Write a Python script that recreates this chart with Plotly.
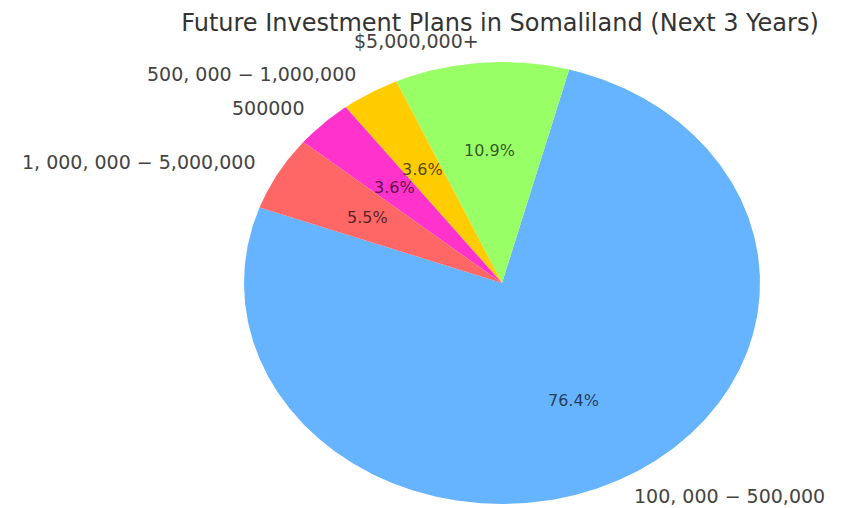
import numpy as np
import plotly.graph_objects as go

# ---- data ----
labels = ["100, 000 − 500,000", "$5,000,000+", "500, 000 − 1,000,000", "500000", "1, 000, 000 − 5,000,000"]
counts = [42, 6, 2, 2, 3]
colors = ["#66b3ff", "#99ff66", "#ffcc00", "#ff33cc", "#ff6666"]
title = "Future Investment Plans in Somaliland (Next 3 Years)"

# ---- layout geometry (pixels) ----
OFF = 8                  # page body margin of the html page
W, H = 868 - OFF, 508 - OFF
cx, cy = 502 - OFF, 283 - OFF   # pie centre in figure px (from top-left)
rx, ry = 258, 221               # pie radii in px (stretched pie)
start_angle = 160.0             # degrees, counter-clockwise

xr = [-cx / rx, (W - cx) / rx]
yr = [-(H - cy) / ry, cy / ry]

total = float(sum(counts))
fig = go.Figure()
annotations = []
angle = start_angle
for lab, val, col in zip(labels, counts, colors):
    frac = val / total
    sweep = 360.0 * frac
    th = np.radians(np.linspace(angle, angle + sweep, max(int(sweep * 2), 8)))
    xs = np.concatenate([[0], np.cos(th), [0]])
    ys = np.concatenate([[0], np.sin(th), [0]])
    fig.add_trace(go.Scatter(x=xs, y=ys, fill="toself", fillcolor=col, mode="lines",
                             line=dict(width=0, color=col), hoverinfo="text",
                             text=f"{lab}: {val}", showlegend=False))
    mid = np.radians(angle + sweep / 2)
    mx, my = np.cos(mid), np.sin(mid)
    # percentage text
    annotations.append(dict(x=0.6 * mx, y=0.6 * my, xref="x", yref="y",
                            text=f"{frac * 100:.1f}%", showarrow=False,
                            font=dict(family="DejaVu Sans", size=16, color="rgba(0,0,0,0.68)"),
                            xanchor="center", yanchor="middle"))
    # outer label (keep the lowest one inside the picture)
    annotations.append(dict(x=1.1 * mx, y=1.1 * my, xref="x", yref="y",
                            text=lab, showarrow=False, borderpad=0,
                            yshift=3 if my < -0.8 else 0,
                            font=dict(family="DejaVu Sans", size=19, color="#444444"),
                            xanchor="left" if mx > 0 else "right", yanchor="middle"))
    angle += sweep

fig.update_layout(
    width=W, height=H,
    margin=dict(l=0, r=0, t=0, b=0),
    paper_bgcolor="white", plot_bgcolor="white",
    title=dict(text=title, x=(500 - OFF) / W, xanchor="center", y=1 - (23 - OFF) / H, yanchor="middle",
               font=dict(family="DejaVu Sans", size=24, color="#333333")),
    xaxis=dict(range=xr, visible=False, showgrid=False, zeroline=False, fixedrange=True),
    yaxis=dict(range=yr, visible=False, showgrid=False, zeroline=False, fixedrange=True),
    annotations=annotations,
    showlegend=False,
)

fig.write_html("out.html")
